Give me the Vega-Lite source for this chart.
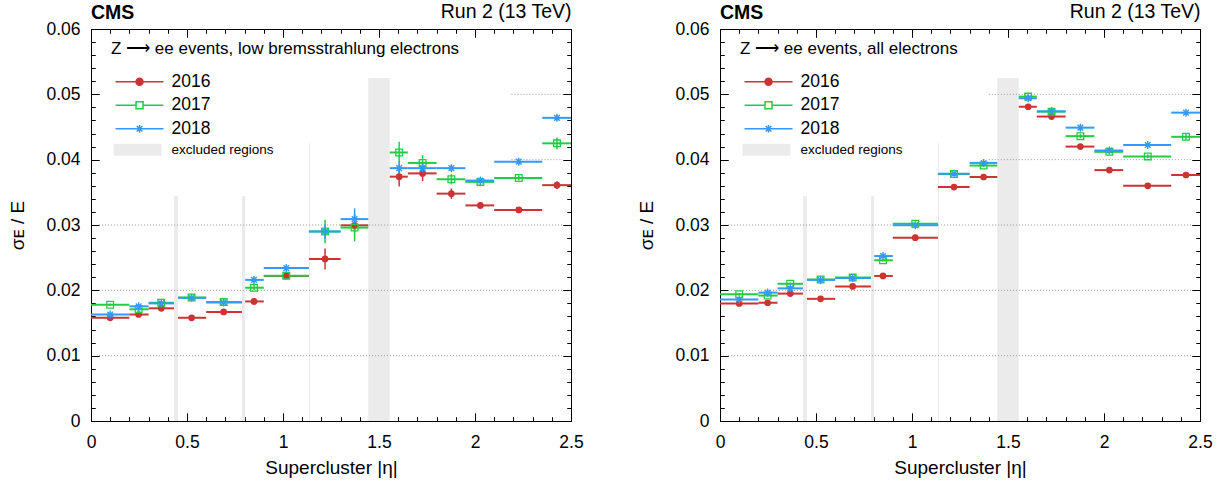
{
"$schema": "https://vega.github.io/schema/vega-lite/v6.json",
"background": "white",
"padding": {"left": 8, "top": 1, "right": 10, "bottom": 4},
"datasets": {
"excl": [
{"a": 0.432, "b": 0.453, "t": 0.0344, "lab": "excluded regions"},
{"a": 0.786, "b": 0.803, "t": 0.0344, "lab": "excluded regions"},
{"a": 1.135, "b": 1.141, "t": 0.0425, "lab": "excluded regions"},
{"a": 1.4442, "b": 1.556, "t": 0.0525, "lab": "excluded regions"}
],
"grid": [
{"panel": "L", "gy": 0.01, "x": 0.042, "x2": 2.458},
{"panel": "L", "gy": 0.02, "x": 0.042, "x2": 2.458},
{"panel": "L", "gy": 0.03, "x": 0.042, "x2": 2.458},
{"panel": "L", "gy": 0.04, "x": 2.19, "x2": 2.458},
{"panel": "L", "gy": 0.05, "x": 2.19, "x2": 2.458},
{"panel": "R", "gy": 0.01, "x": 0.042, "x2": 2.458},
{"panel": "R", "gy": 0.02, "x": 0.042, "x2": 2.458},
{"panel": "R", "gy": 0.03, "x": 0.042, "x2": 2.458},
{"panel": "R", "gy": 0.04, "x": 1.40, "x2": 2.458},
{"panel": "R", "gy": 0.05, "x": 1.40, "x2": 2.458}
],
"pts": [
{"panel":"L","year":"2016","eta":0.1,"eta_lo":0,"eta_hi":0.2,"res":0.0158,"res_lo":0.0156,"res_hi":0.016},
{"panel":"L","year":"2017","eta":0.1,"eta_lo":0,"eta_hi":0.2,"res":0.0178,"res_lo":0.0176,"res_hi":0.018},
{"panel":"L","year":"2018","eta":0.1,"eta_lo":0,"eta_hi":0.2,"res":0.0163,"res_lo":0.0161,"res_hi":0.0165},
{"panel":"L","year":"2016","eta":0.248,"eta_lo":0.2,"eta_hi":0.3,"res":0.0163,"res_lo":0.016,"res_hi":0.0166},
{"panel":"L","year":"2017","eta":0.248,"eta_lo":0.2,"eta_hi":0.3,"res":0.0171,"res_lo":0.0168,"res_hi":0.0174},
{"panel":"L","year":"2018","eta":0.248,"eta_lo":0.2,"eta_hi":0.3,"res":0.01755,"res_lo":0.01725,"res_hi":0.01785},
{"panel":"L","year":"2016","eta":0.366,"eta_lo":0.3,"eta_hi":0.432,"res":0.01725,"res_lo":0.01705,"res_hi":0.01745},
{"panel":"L","year":"2017","eta":0.366,"eta_lo":0.3,"eta_hi":0.432,"res":0.0181,"res_lo":0.0179,"res_hi":0.0183},
{"panel":"L","year":"2018","eta":0.366,"eta_lo":0.3,"eta_hi":0.432,"res":0.018,"res_lo":0.0178,"res_hi":0.0182},
{"panel":"L","year":"2016","eta":0.524,"eta_lo":0.453,"eta_hi":0.6,"res":0.0158,"res_lo":0.0156,"res_hi":0.016},
{"panel":"L","year":"2017","eta":0.524,"eta_lo":0.453,"eta_hi":0.6,"res":0.0189,"res_lo":0.0187,"res_hi":0.0191},
{"panel":"L","year":"2018","eta":0.524,"eta_lo":0.453,"eta_hi":0.6,"res":0.01885,"res_lo":0.01865,"res_hi":0.01905},
{"panel":"L","year":"2016","eta":0.691,"eta_lo":0.6,"eta_hi":0.786,"res":0.0167,"res_lo":0.0165,"res_hi":0.0169},
{"panel":"L","year":"2017","eta":0.691,"eta_lo":0.6,"eta_hi":0.786,"res":0.0182,"res_lo":0.018,"res_hi":0.0184},
{"panel":"L","year":"2018","eta":0.691,"eta_lo":0.6,"eta_hi":0.786,"res":0.01815,"res_lo":0.01795,"res_hi":0.01835},
{"panel":"L","year":"2016","eta":0.849,"eta_lo":0.803,"eta_hi":0.9,"res":0.0183,"res_lo":0.0178,"res_hi":0.0188},
{"panel":"L","year":"2017","eta":0.849,"eta_lo":0.803,"eta_hi":0.9,"res":0.0204,"res_lo":0.02,"res_hi":0.0208},
{"panel":"L","year":"2018","eta":0.849,"eta_lo":0.803,"eta_hi":0.9,"res":0.0216,"res_lo":0.0212,"res_hi":0.022},
{"panel":"L","year":"2016","eta":1.017,"eta_lo":0.9,"eta_hi":1.135,"res":0.0222,"res_lo":0.0219,"res_hi":0.0225},
{"panel":"L","year":"2017","eta":1.017,"eta_lo":0.9,"eta_hi":1.135,"res":0.02225,"res_lo":0.02185,"res_hi":0.02265},
{"panel":"L","year":"2018","eta":1.017,"eta_lo":0.9,"eta_hi":1.135,"res":0.0234,"res_lo":0.0231,"res_hi":0.0237},
{"panel":"L","year":"2016","eta":1.219,"eta_lo":1.135,"eta_hi":1.3,"res":0.0248,"res_lo":0.0232,"res_hi":0.0264},
{"panel":"L","year":"2017","eta":1.219,"eta_lo":1.135,"eta_hi":1.3,"res":0.029,"res_lo":0.0272,"res_hi":0.0308},
{"panel":"L","year":"2018","eta":1.219,"eta_lo":1.135,"eta_hi":1.3,"res":0.029,"res_lo":0.0279,"res_hi":0.0301},
{"panel":"L","year":"2016","eta":1.373,"eta_lo":1.3,"eta_hi":1.4442,"res":0.02995,"res_lo":0.02895,"res_hi":0.03095},
{"panel":"L","year":"2017","eta":1.373,"eta_lo":1.3,"eta_hi":1.4442,"res":0.0296,"res_lo":0.0275,"res_hi":0.0317},
{"panel":"L","year":"2018","eta":1.373,"eta_lo":1.3,"eta_hi":1.4442,"res":0.0309,"res_lo":0.02925,"res_hi":0.03255},
{"panel":"L","year":"2016","eta":1.605,"eta_lo":1.556,"eta_hi":1.65,"res":0.0374,"res_lo":0.0359,"res_hi":0.0389},
{"panel":"L","year":"2017","eta":1.605,"eta_lo":1.556,"eta_hi":1.65,"res":0.0411,"res_lo":0.03945,"res_hi":0.04275},
{"panel":"L","year":"2018","eta":1.605,"eta_lo":1.556,"eta_hi":1.65,"res":0.0387,"res_lo":0.0377,"res_hi":0.0397},
{"panel":"L","year":"2016","eta":1.727,"eta_lo":1.65,"eta_hi":1.8,"res":0.0379,"res_lo":0.0367,"res_hi":0.0391},
{"panel":"L","year":"2017","eta":1.727,"eta_lo":1.65,"eta_hi":1.8,"res":0.0395,"res_lo":0.0383,"res_hi":0.0407},
{"panel":"L","year":"2018","eta":1.727,"eta_lo":1.65,"eta_hi":1.8,"res":0.0387,"res_lo":0.0379,"res_hi":0.0395},
{"panel":"L","year":"2016","eta":1.877,"eta_lo":1.8,"eta_hi":1.95,"res":0.0348,"res_lo":0.034,"res_hi":0.0356},
{"panel":"L","year":"2017","eta":1.877,"eta_lo":1.8,"eta_hi":1.95,"res":0.037,"res_lo":0.0362,"res_hi":0.0378},
{"panel":"L","year":"2018","eta":1.877,"eta_lo":1.8,"eta_hi":1.95,"res":0.0387,"res_lo":0.0382,"res_hi":0.0392},
{"panel":"L","year":"2016","eta":2.028,"eta_lo":1.95,"eta_hi":2.1,"res":0.033,"res_lo":0.0325,"res_hi":0.0335},
{"panel":"L","year":"2017","eta":2.028,"eta_lo":1.95,"eta_hi":2.1,"res":0.0366,"res_lo":0.0361,"res_hi":0.0371},
{"panel":"L","year":"2018","eta":2.028,"eta_lo":1.95,"eta_hi":2.1,"res":0.0368,"res_lo":0.0364,"res_hi":0.0372},
{"panel":"L","year":"2016","eta":2.228,"eta_lo":2.1,"eta_hi":2.35,"res":0.0323,"res_lo":0.032,"res_hi":0.0326},
{"panel":"L","year":"2017","eta":2.228,"eta_lo":2.1,"eta_hi":2.35,"res":0.0372,"res_lo":0.0368,"res_hi":0.0376},
{"panel":"L","year":"2018","eta":2.228,"eta_lo":2.1,"eta_hi":2.35,"res":0.0397,"res_lo":0.0394,"res_hi":0.04},
{"panel":"L","year":"2016","eta":2.427,"eta_lo":2.35,"eta_hi":2.5,"res":0.0361,"res_lo":0.0355,"res_hi":0.0367},
{"panel":"L","year":"2017","eta":2.427,"eta_lo":2.35,"eta_hi":2.5,"res":0.0425,"res_lo":0.0416,"res_hi":0.0434},
{"panel":"L","year":"2018","eta":2.427,"eta_lo":2.35,"eta_hi":2.5,"res":0.0464,"res_lo":0.046,"res_hi":0.0468},
{"panel":"R","year":"2016","eta":0.1,"eta_lo":0,"eta_hi":0.2,"res":0.018,"res_lo":0.0178,"res_hi":0.0182},
{"panel":"R","year":"2017","eta":0.1,"eta_lo":0,"eta_hi":0.2,"res":0.0194,"res_lo":0.0192,"res_hi":0.0196},
{"panel":"R","year":"2018","eta":0.1,"eta_lo":0,"eta_hi":0.2,"res":0.0186,"res_lo":0.0184,"res_hi":0.0188},
{"panel":"R","year":"2016","eta":0.248,"eta_lo":0.2,"eta_hi":0.3,"res":0.0181,"res_lo":0.0179,"res_hi":0.0183},
{"panel":"R","year":"2017","eta":0.248,"eta_lo":0.2,"eta_hi":0.3,"res":0.0192,"res_lo":0.019,"res_hi":0.0194},
{"panel":"R","year":"2018","eta":0.248,"eta_lo":0.2,"eta_hi":0.3,"res":0.01965,"res_lo":0.01945,"res_hi":0.01985},
{"panel":"R","year":"2016","eta":0.366,"eta_lo":0.3,"eta_hi":0.432,"res":0.0195,"res_lo":0.0193,"res_hi":0.0197},
{"panel":"R","year":"2017","eta":0.366,"eta_lo":0.3,"eta_hi":0.432,"res":0.021,"res_lo":0.0208,"res_hi":0.0212},
{"panel":"R","year":"2018","eta":0.366,"eta_lo":0.3,"eta_hi":0.432,"res":0.0203,"res_lo":0.0201,"res_hi":0.0205},
{"panel":"R","year":"2016","eta":0.524,"eta_lo":0.453,"eta_hi":0.6,"res":0.0187,"res_lo":0.0185,"res_hi":0.0189},
{"panel":"R","year":"2017","eta":0.524,"eta_lo":0.453,"eta_hi":0.6,"res":0.02165,"res_lo":0.02145,"res_hi":0.02185},
{"panel":"R","year":"2018","eta":0.524,"eta_lo":0.453,"eta_hi":0.6,"res":0.0216,"res_lo":0.0214,"res_hi":0.0218},
{"panel":"R","year":"2016","eta":0.691,"eta_lo":0.6,"eta_hi":0.786,"res":0.0206,"res_lo":0.0204,"res_hi":0.0208},
{"panel":"R","year":"2017","eta":0.691,"eta_lo":0.6,"eta_hi":0.786,"res":0.02195,"res_lo":0.02175,"res_hi":0.02215},
{"panel":"R","year":"2018","eta":0.691,"eta_lo":0.6,"eta_hi":0.786,"res":0.0219,"res_lo":0.0217,"res_hi":0.0221},
{"panel":"R","year":"2016","eta":0.849,"eta_lo":0.803,"eta_hi":0.9,"res":0.0222,"res_lo":0.022,"res_hi":0.0224},
{"panel":"R","year":"2017","eta":0.849,"eta_lo":0.803,"eta_hi":0.9,"res":0.0246,"res_lo":0.0244,"res_hi":0.0248},
{"panel":"R","year":"2018","eta":0.849,"eta_lo":0.803,"eta_hi":0.9,"res":0.02525,"res_lo":0.02505,"res_hi":0.02545},
{"panel":"R","year":"2016","eta":1.017,"eta_lo":0.9,"eta_hi":1.135,"res":0.02806,"res_lo":0.02786,"res_hi":0.02826},
{"panel":"R","year":"2017","eta":1.017,"eta_lo":0.9,"eta_hi":1.135,"res":0.0302,"res_lo":0.03,"res_hi":0.0304},
{"panel":"R","year":"2018","eta":1.017,"eta_lo":0.9,"eta_hi":1.135,"res":0.02995,"res_lo":0.02975,"res_hi":0.03015},
{"panel":"R","year":"2016","eta":1.219,"eta_lo":1.135,"eta_hi":1.3,"res":0.0358,"res_lo":0.0356,"res_hi":0.036},
{"panel":"R","year":"2017","eta":1.219,"eta_lo":1.135,"eta_hi":1.3,"res":0.0378,"res_lo":0.0376,"res_hi":0.038},
{"panel":"R","year":"2018","eta":1.219,"eta_lo":1.135,"eta_hi":1.3,"res":0.03785,"res_lo":0.03765,"res_hi":0.03805},
{"panel":"R","year":"2016","eta":1.373,"eta_lo":1.3,"eta_hi":1.4442,"res":0.03735,"res_lo":0.03715,"res_hi":0.03755},
{"panel":"R","year":"2017","eta":1.373,"eta_lo":1.3,"eta_hi":1.4442,"res":0.0391,"res_lo":0.0389,"res_hi":0.0393},
{"panel":"R","year":"2018","eta":1.373,"eta_lo":1.3,"eta_hi":1.4442,"res":0.0395,"res_lo":0.0393,"res_hi":0.0397},
{"panel":"R","year":"2016","eta":1.605,"eta_lo":1.556,"eta_hi":1.65,"res":0.0481,"res_lo":0.0478,"res_hi":0.0484},
{"panel":"R","year":"2017","eta":1.605,"eta_lo":1.556,"eta_hi":1.65,"res":0.04965,"res_lo":0.04935,"res_hi":0.04995},
{"panel":"R","year":"2018","eta":1.605,"eta_lo":1.556,"eta_hi":1.65,"res":0.0494,"res_lo":0.0491,"res_hi":0.0497},
{"panel":"R","year":"2016","eta":1.727,"eta_lo":1.65,"eta_hi":1.8,"res":0.0466,"res_lo":0.0463,"res_hi":0.0469},
{"panel":"R","year":"2017","eta":1.727,"eta_lo":1.65,"eta_hi":1.8,"res":0.04735,"res_lo":0.04705,"res_hi":0.04765},
{"panel":"R","year":"2018","eta":1.727,"eta_lo":1.65,"eta_hi":1.8,"res":0.0474,"res_lo":0.0471,"res_hi":0.0477},
{"panel":"R","year":"2016","eta":1.877,"eta_lo":1.8,"eta_hi":1.95,"res":0.042,"res_lo":0.0417,"res_hi":0.0423},
{"panel":"R","year":"2017","eta":1.877,"eta_lo":1.8,"eta_hi":1.95,"res":0.0436,"res_lo":0.0433,"res_hi":0.0439},
{"panel":"R","year":"2018","eta":1.877,"eta_lo":1.8,"eta_hi":1.95,"res":0.0449,"res_lo":0.0446,"res_hi":0.0452},
{"panel":"R","year":"2016","eta":2.028,"eta_lo":1.95,"eta_hi":2.1,"res":0.0384,"res_lo":0.0381,"res_hi":0.0387},
{"panel":"R","year":"2017","eta":2.028,"eta_lo":1.95,"eta_hi":2.1,"res":0.0412,"res_lo":0.0409,"res_hi":0.0415},
{"panel":"R","year":"2018","eta":2.028,"eta_lo":1.95,"eta_hi":2.1,"res":0.0414,"res_lo":0.0411,"res_hi":0.0417},
{"panel":"R","year":"2016","eta":2.228,"eta_lo":2.1,"eta_hi":2.35,"res":0.036,"res_lo":0.0357,"res_hi":0.0363},
{"panel":"R","year":"2017","eta":2.228,"eta_lo":2.1,"eta_hi":2.35,"res":0.0405,"res_lo":0.0402,"res_hi":0.0408},
{"panel":"R","year":"2018","eta":2.228,"eta_lo":2.1,"eta_hi":2.35,"res":0.04225,"res_lo":0.04195,"res_hi":0.04255},
{"panel":"R","year":"2016","eta":2.427,"eta_lo":2.35,"eta_hi":2.5,"res":0.03765,"res_lo":0.03725,"res_hi":0.03805},
{"panel":"R","year":"2017","eta":2.427,"eta_lo":2.35,"eta_hi":2.5,"res":0.0435,"res_lo":0.043,"res_hi":0.044},
{"panel":"R","year":"2018","eta":2.427,"eta_lo":2.35,"eta_hi":2.5,"res":0.0472,"res_lo":0.0469,"res_hi":0.0475}
]
},
"config": {
"font": "Liberation Sans",
"view": {"stroke": "#000"},
"style": {"guide-label": {"font": "Liberation Sans", "fontSize": 17.5, "fill": "#000"}, "guide-title": {"font": "Liberation Sans", "fontSize": 19, "fontWeight": "normal", "fill": "#000"}},
"axis": {"grid": false, "domain": false, "tickColor": "#000"},
"legend": {"orient": "none", "legendX": 20, "padding": 0, "labelFont": "Liberation Sans", "titleFont": "Liberation Sans", "titleFontWeight": "normal", "titleFontSize": 17, "labelFontSize": 17.5, "titleColor": "#000", "labelColor": "#000", "symbolSize": 49, "labelOffset": 43, "rowPadding": 4.5, "titlePadding": 15, "titleLimit": 700, "labelLimit": 400, "symbolStrokeWidth": 1.5},
"title": {"font": "Liberation Sans", "fontSize": 19.5, "fontWeight": "bold", "color": "#000", "anchor": "start", "frame": "group"}
},
"spacing": 53,
"resolve": {"scale": {"color": "independent", "fill": "independent"}, "legend": {"color": "independent", "fill": "independent"}},
"hconcat": [
{
"width": 480, "height": 392,
"title": {"text": "CMS", "offset": -22},
"resolve": {"axis": {"x": "independent", "y": "independent"}},
"layer": [
{"data": {"name": "excl"}, "mark": {"type": "rect"},
"encoding": {
"x": {"field": "a", "type": "quantitative", "scale": {"domain": [0, 2.5], "nice": false, "zero": false},
"axis": {"orient": "bottom", "values": [0,0.1,0.2,0.3,0.4,0.5,0.6,0.7,0.8,0.9,1,1.1,1.2,1.3,1.4,1.5,1.6,1.7,1.8,1.9,2,2.1,2.2,2.3,2.4,2.5], "format": "~g", "labelExpr": "abs(datum.value*2-round(datum.value*2))<1e-6 ? datum.label : ''", "labelFlush": false, "labelOverlap": false, "title": "Supercluster |η|", "titleFontWeight": "normal", "tickSize": -4, "labelPadding": 16, "titlePadding": 8, "grid": true, "gridColor": "#000", "gridWidth": 1, "gridOpacity": 1, "gridDash": [4, 384, 4]}},
"x2": {"field": "b"},
"y": {"field": "t", "type": "quantitative", "scale": {"domain": [0, 0.06], "nice": false, "zero": false},
"axis": {"orient": "left", "values": [0,0.002,0.004,0.006,0.008,0.01,0.012,0.014,0.016,0.018,0.02,0.022,0.024,0.026,0.028,0.03,0.032,0.034,0.036,0.038,0.04,0.042,0.044,0.046,0.048,0.05,0.052,0.054,0.056,0.058,0.06], "format": "~g", "labelExpr": "abs(datum.value*100-round(datum.value*100))<1e-6 ? datum.label : ''", "labelFlush": false, "labelOverlap": false, "title": "σᴇ / E", "titleFontWeight": "normal", "tickSize": -4, "labelPadding": 15, "titlePadding": 18, "grid": true, "gridColor": "#000", "gridWidth": 1, "gridOpacity": 1, "gridDash": [4, 472, 4]}},
"y2": {"datum": 0},
"fill": {"field": "lab", "type": "nominal", "scale": {"range": ["#ebebeb"]}, "legend": {"title": null, "legendY": 114, "labelOffset": 47, "symbolType": "M-1.2,-1.71H12.5V1.71H-1.2Z", "labelFontSize": 13.5, "symbolStrokeWidth": 0}}
}},
{"data": {"name": "grid"}, "transform": [{"filter": "datum.panel === 'L'"}], "mark": {"type": "rule", "color": "#9a9a9a", "strokeDash": [1, 2], "strokeWidth": 1},
"encoding": {
"x": {"field": "x", "type": "quantitative", "axis": {"orient": "top", "values": [0,0.1,0.2,0.3,0.4,0.5,0.6,0.7,0.8,0.9,1,1.1,1.2,1.3,1.4,1.5,1.6,1.7,1.8,1.9,2,2.1,2.2,2.3,2.4,2.5], "labels": false, "tickSize": -4, "title": "Run 2 (13 TeV)", "titleFontWeight": "normal", "titleAnchor": "end", "titleFontSize": 19.5, "titlePadding": 7}},
"x2": {"field": "x2"},
"y": {"field": "gy", "type": "quantitative", "axis": {"orient": "right", "values": [0,0.002,0.004,0.006,0.008,0.01,0.012,0.014,0.016,0.018,0.02,0.022,0.024,0.026,0.028,0.03,0.032,0.034,0.036,0.038,0.04,0.042,0.044,0.046,0.048,0.05,0.052,0.054,0.056,0.058,0.06], "labels": false, "tickSize": -4, "title": null}}
}},
{"data": {"name": "pts"}, "transform": [{"filter": "datum.panel === 'L'"}], "mark": {"type": "rule", "strokeWidth": 2},
"encoding": {
"x": {"field": "eta_lo", "type": "quantitative", "axis": {"orient": "bottom", "values": [0, 0.5, 1, 1.5, 2, 2.5], "labels": false, "tickSize": -8, "title": null, "grid": true, "gridColor": "#000", "gridWidth": 1, "gridOpacity": 1, "gridDash": [8, 376, 8]}},
"x2": {"field": "eta_hi"},
"y": {"field": "res", "type": "quantitative", "axis": {"orient": "left", "values": [0, 0.01, 0.02, 0.03, 0.04, 0.05, 0.06], "labels": false, "tickSize": -8, "title": null, "grid": true, "gridColor": "#000", "gridWidth": 1, "gridOpacity": 1, "gridDash": [8, 464, 8]}},
"color": {"field": "year", "type": "nominal", "scale": {"domain": ["2016", "2017", "2018"], "range": ["#cc3333", "#22cc44", "#3399ff"]},
"legend": {"title": "Z ⟶ ee events, low bremsstrahlung electrons", "legendY": 12, "encode": {"symbols": {"update": {
"shape": {"signal": "datum.value === '2016' ? 'M-1.2,0H12.5M6.65,0A1,1 0 1,1 4.65,0A1,1 0 1,1 6.65,0Z' : datum.value === '2017' ? 'M-1.2,0H4.65M6.65,0H12.5M4.65,-1H6.65V1H4.65Z' : 'M-1.2,0H12.5M5.65,-1.1V1.1M4.85,-0.8L6.45,0.8M4.85,0.8L6.45,-0.8'"},
"fill": {"signal": "datum.value === '2016' ? '#cc3333' : 'transparent'"},
"stroke": {"signal": "datum.value === '2016' ? '#cc3333' : datum.value === '2017' ? '#22cc44' : '#3399ff'"}
}}}}}
}},
{"data": {"name": "pts"}, "transform": [{"filter": "datum.panel === 'L'"}], "mark": {"type": "rule", "strokeWidth": 1.5},
"encoding": {
"x": {"field": "eta", "type": "quantitative", "axis": {"orient": "top", "values": [0, 0.5, 1, 1.5, 2, 2.5], "labels": false, "tickSize": -8, "title": null}},
"y": {"field": "res_lo", "type": "quantitative", "axis": {"orient": "right", "values": [0, 0.01, 0.02, 0.03, 0.04, 0.05, 0.06], "labels": false, "tickSize": -8, "title": null}},
"y2": {"field": "res_hi"},
"color": {"field": "year", "type": "nominal"}
}},
{"data": {"name": "pts"}, "transform": [{"filter": "datum.panel === 'L' && datum.year === '2016'"}], "mark": {"type": "point", "shape": "circle", "filled": true, "size": 45, "color": "#cc3333", "opacity": 1},
"encoding": {"x": {"field": "eta", "type": "quantitative", "axis": null}, "y": {"field": "res", "type": "quantitative", "axis": null}}},
{"data": {"name": "pts"}, "transform": [{"filter": "datum.panel === 'L' && datum.year === '2017'"}], "mark": {"type": "point", "shape": "square", "filled": false, "size": 45, "strokeWidth": 1.3, "color": "#22cc44", "opacity": 1},
"encoding": {"x": {"field": "eta", "type": "quantitative", "axis": null}, "y": {"field": "res", "type": "quantitative", "axis": null}}},
{"data": {"name": "pts"}, "transform": [{"filter": "datum.panel === 'L' && datum.year === '2018'"}], "mark": {"type": "point", "shape": "M-1,0H1M0,-1V1M-0.7,-0.7L0.7,0.7M-0.7,0.7L0.7,-0.7", "filled": false, "size": 64, "strokeWidth": 1.4, "color": "#3399ff", "opacity": 1},
"encoding": {"x": {"field": "eta", "type": "quantitative", "axis": null}, "y": {"field": "res", "type": "quantitative", "axis": null}}}
]
},
{
"width": 480, "height": 392,
"title": {"text": "CMS", "offset": -22},
"resolve": {"axis": {"x": "independent", "y": "independent"}},
"layer": [
{"data": {"name": "excl"}, "mark": {"type": "rect"},
"encoding": {
"x": {"field": "a", "type": "quantitative", "scale": {"domain": [0, 2.5], "nice": false, "zero": false},
"axis": {"orient": "bottom", "values": [0,0.1,0.2,0.3,0.4,0.5,0.6,0.7,0.8,0.9,1,1.1,1.2,1.3,1.4,1.5,1.6,1.7,1.8,1.9,2,2.1,2.2,2.3,2.4,2.5], "format": "~g", "labelExpr": "abs(datum.value*2-round(datum.value*2))<1e-6 ? datum.label : ''", "labelFlush": false, "labelOverlap": false, "title": "Supercluster |η|", "titleFontWeight": "normal", "tickSize": -4, "labelPadding": 16, "titlePadding": 8, "grid": true, "gridColor": "#000", "gridWidth": 1, "gridOpacity": 1, "gridDash": [4, 384, 4]}},
"x2": {"field": "b"},
"y": {"field": "t", "type": "quantitative", "scale": {"domain": [0, 0.06], "nice": false, "zero": false},
"axis": {"orient": "left", "values": [0,0.002,0.004,0.006,0.008,0.01,0.012,0.014,0.016,0.018,0.02,0.022,0.024,0.026,0.028,0.03,0.032,0.034,0.036,0.038,0.04,0.042,0.044,0.046,0.048,0.05,0.052,0.054,0.056,0.058,0.06], "format": "~g", "labelExpr": "abs(datum.value*100-round(datum.value*100))<1e-6 ? datum.label : ''", "labelFlush": false, "labelOverlap": false, "title": "σᴇ / E", "titleFontWeight": "normal", "tickSize": -4, "labelPadding": 15, "titlePadding": 18, "grid": true, "gridColor": "#000", "gridWidth": 1, "gridOpacity": 1, "gridDash": [4, 472, 4]}},
"y2": {"datum": 0},
"fill": {"field": "lab", "type": "nominal", "scale": {"range": ["#ebebeb"]}, "legend": {"title": null, "legendY": 114, "labelOffset": 47, "symbolType": "M-1.2,-1.71H12.5V1.71H-1.2Z", "labelFontSize": 13.5, "symbolStrokeWidth": 0}}
}},
{"data": {"name": "grid"}, "transform": [{"filter": "datum.panel === 'R'"}], "mark": {"type": "rule", "color": "#9a9a9a", "strokeDash": [1, 2], "strokeWidth": 1},
"encoding": {
"x": {"field": "x", "type": "quantitative", "axis": {"orient": "top", "values": [0,0.1,0.2,0.3,0.4,0.5,0.6,0.7,0.8,0.9,1,1.1,1.2,1.3,1.4,1.5,1.6,1.7,1.8,1.9,2,2.1,2.2,2.3,2.4,2.5], "labels": false, "tickSize": -4, "title": "Run 2 (13 TeV)", "titleFontWeight": "normal", "titleAnchor": "end", "titleFontSize": 19.5, "titlePadding": 7}},
"x2": {"field": "x2"},
"y": {"field": "gy", "type": "quantitative", "axis": {"orient": "right", "values": [0,0.002,0.004,0.006,0.008,0.01,0.012,0.014,0.016,0.018,0.02,0.022,0.024,0.026,0.028,0.03,0.032,0.034,0.036,0.038,0.04,0.042,0.044,0.046,0.048,0.05,0.052,0.054,0.056,0.058,0.06], "labels": false, "tickSize": -4, "title": null}}
}},
{"data": {"name": "pts"}, "transform": [{"filter": "datum.panel === 'R'"}], "mark": {"type": "rule", "strokeWidth": 2},
"encoding": {
"x": {"field": "eta_lo", "type": "quantitative", "axis": {"orient": "bottom", "values": [0, 0.5, 1, 1.5, 2, 2.5], "labels": false, "tickSize": -8, "title": null, "grid": true, "gridColor": "#000", "gridWidth": 1, "gridOpacity": 1, "gridDash": [8, 376, 8]}},
"x2": {"field": "eta_hi"},
"y": {"field": "res", "type": "quantitative", "axis": {"orient": "left", "values": [0, 0.01, 0.02, 0.03, 0.04, 0.05, 0.06], "labels": false, "tickSize": -8, "title": null, "grid": true, "gridColor": "#000", "gridWidth": 1, "gridOpacity": 1, "gridDash": [8, 464, 8]}},
"color": {"field": "year", "type": "nominal", "scale": {"domain": ["2016", "2017", "2018"], "range": ["#cc3333", "#22cc44", "#3399ff"]},
"legend": {"title": "Z ⟶ ee events, all electrons", "legendY": 12, "encode": {"symbols": {"update": {
"shape": {"signal": "datum.value === '2016' ? 'M-1.2,0H12.5M6.65,0A1,1 0 1,1 4.65,0A1,1 0 1,1 6.65,0Z' : datum.value === '2017' ? 'M-1.2,0H4.65M6.65,0H12.5M4.65,-1H6.65V1H4.65Z' : 'M-1.2,0H12.5M5.65,-1.1V1.1M4.85,-0.8L6.45,0.8M4.85,0.8L6.45,-0.8'"},
"fill": {"signal": "datum.value === '2016' ? '#cc3333' : 'transparent'"},
"stroke": {"signal": "datum.value === '2016' ? '#cc3333' : datum.value === '2017' ? '#22cc44' : '#3399ff'"}
}}}}}
}},
{"data": {"name": "pts"}, "transform": [{"filter": "datum.panel === 'R'"}], "mark": {"type": "rule", "strokeWidth": 1.5},
"encoding": {
"x": {"field": "eta", "type": "quantitative", "axis": {"orient": "top", "values": [0, 0.5, 1, 1.5, 2, 2.5], "labels": false, "tickSize": -8, "title": null}},
"y": {"field": "res_lo", "type": "quantitative", "axis": {"orient": "right", "values": [0, 0.01, 0.02, 0.03, 0.04, 0.05, 0.06], "labels": false, "tickSize": -8, "title": null}},
"y2": {"field": "res_hi"},
"color": {"field": "year", "type": "nominal"}
}},
{"data": {"name": "pts"}, "transform": [{"filter": "datum.panel === 'R' && datum.year === '2016'"}], "mark": {"type": "point", "shape": "circle", "filled": true, "size": 45, "color": "#cc3333", "opacity": 1},
"encoding": {"x": {"field": "eta", "type": "quantitative", "axis": null}, "y": {"field": "res", "type": "quantitative", "axis": null}}},
{"data": {"name": "pts"}, "transform": [{"filter": "datum.panel === 'R' && datum.year === '2017'"}], "mark": {"type": "point", "shape": "square", "filled": false, "size": 45, "strokeWidth": 1.3, "color": "#22cc44", "opacity": 1},
"encoding": {"x": {"field": "eta", "type": "quantitative", "axis": null}, "y": {"field": "res", "type": "quantitative", "axis": null}}},
{"data": {"name": "pts"}, "transform": [{"filter": "datum.panel === 'R' && datum.year === '2018'"}], "mark": {"type": "point", "shape": "M-1,0H1M0,-1V1M-0.7,-0.7L0.7,0.7M-0.7,0.7L0.7,-0.7", "filled": false, "size": 64, "strokeWidth": 1.4, "color": "#3399ff", "opacity": 1},
"encoding": {"x": {"field": "eta", "type": "quantitative", "axis": null}, "y": {"field": "res", "type": "quantitative", "axis": null}}}
]
}
]
}
